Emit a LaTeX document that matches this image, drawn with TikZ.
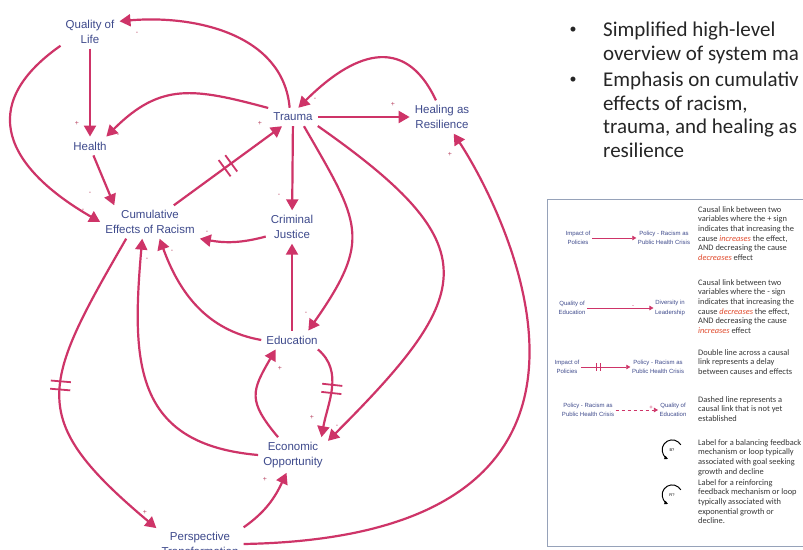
\documentclass[tikz,border=0pt]{standalone}
\usepackage{fontspec}
\setmainfont{Liberation Sans}
\newfontfamily\slidefont{Carlito}
\usepackage{tikz}
\usetikzlibrary{arrows.meta}
\usepackage{xcolor}

\definecolor{linkpink}{RGB}{206,52,104}
\definecolor{varblue}{RGB}{62,74,140}
\definecolor{signred}{RGB}{185,70,100}
\definecolor{boxline}{RGB}{150,162,185}
\definecolor{desctext}{RGB}{55,55,55}
\definecolor{hotword}{RGB}{225,75,45}
\newcommand{\hot}[1]{\textcolor{hotword}{\itshape #1}}

\begin{document}
\begin{tikzpicture}[x=1pt, y=1pt]
    % ================= styles =================
    \tikzset{
        % variables of the loop diagram
        vnode/.style={align=center, text=varblue, inner sep=5pt, font=\fontsize{11.5}{14.5}\selectfont},
        % polarity signs
        sgn/.style={text=signred, inner sep=0pt, font=\fontsize{7}{7}\selectfont},
        % causal links
        link/.style={line width=2.2pt, linkpink, -{Triangle[length=11pt, width=12pt]}},
        % holder of the two delay bars
        delaymark/.style={sloped, inner sep=0pt, minimum width=6pt, minimum height=18pt},
        dbar/.style={line width=1.8pt, linkpink},
        % slide text on the right
        slidetext/.style={align=left, anchor=north west, inner sep=0pt, text=black!85, font=\slidefont\fontsize{21}{23.5}\selectfont},
        bulletmark/.style={inner sep=0pt, text=black!85, font=\slidefont\fontsize{14}{14}\selectfont},
        % legend
        legvar/.style={align=center, text=varblue, inner sep=1.5pt, font=\fontsize{6}{9.5}\selectfont},
        leglink/.style={line width=0.7pt, linkpink, -{Triangle[length=4pt, width=4.5pt]}},
        legsgn/.style={text=linkpink, inner sep=0pt, font=\fontsize{6}{6}\selectfont},
        legdelay/.style={sloped, inner sep=0pt, minimum width=2.5pt, minimum height=7pt},
        legdesc/.style={align=left, anchor=north west, inner sep=0pt, text=desctext, font=\slidefont\fontsize{8.4}{9.7}\selectfont},
        loopicon/.style={circle, minimum size=20pt, inner sep=0pt, font=\fontsize{4}{4}\selectfont},
        looparc/.style={line width=1pt, -{Triangle[length=3.5pt, width=3.5pt]}}
    }

    \fill[white] (0,0) rectangle (803,549);
    \useasboundingbox (0,0) rectangle (803,549);

    % ================= variables =================
    \node[vnode] (qol) at (90,517) {Quality of\\Life};
    \node[vnode] (health) at (90,403) {Health};
    \node[vnode] (cumul) at (150,327) {Cumulative\\Effects of Racism};
    \node[vnode] (trauma) at (293,432) {Trauma};
    \node[vnode] (healing) at (442,432) {Healing as\\Resilience};
    \node[vnode] (justice) at (292,322) {Criminal\\Justice};
    \node[vnode] (educ) at (292,209) {Education};
    \node[vnode] (econ) at (293,94) {Economic\\Opportunity};
    \node[vnode] (persp) at (200,5) {Perspective\\Transformation};

    % ================= links =================
    \draw[link] (trauma.110) to[out=95, in=5] (qol.20);
    \draw[link] (qol) -- (health);
    \draw[link] (trauma.160) to[out=165, in=45, looseness=1.2] (health.30);
    \draw[link] (qol.205) to[out=215, in=150, looseness=1.5] (cumul.west);
    \draw[link] (health.-70) -- (cumul.155);
    \draw[link] (cumul.35) -- node[delaymark] (dl1) {} (trauma.-140);
    \draw[link] (trauma) -- (healing);
    \draw[link] (healing.110) to[out=115, in=45, looseness=1.4] (trauma.60);
    \draw[link] (trauma) -- (justice);
    \draw[link] (justice.200) to[out=195, in=-10] (cumul.south east);
    \draw[link] (trauma.-40) to[out=-60, in=55, looseness=1.4] (educ.30);
    \draw[link] (educ) -- (justice);
    \draw[link] (educ.west) to[out=170, in=-70] (cumul.-60);
    \draw[link] (econ.west) to[out=175, in=-95, looseness=1.3] (cumul.-115);
    \draw[link] (cumul.-145) to[out=-120, in=140, looseness=1.5] node[delaymark, pos=.45] (dl2) {} (persp.160);
    \draw[link] (persp.north east) to[out=35, in=-115] (econ.-110);
    \draw[link] (persp.east) .. controls +(440,8) and +(40,-60) .. (healing.-55);
    \draw[link] (educ.-20) to[out=-40, in=80] node[delaymark, pos=.5] (dl3) {} (econ.32);
    \draw[link] (econ.130) to[out=130, in=-120, looseness=1.4] (educ.-150);
    \draw[link] (trauma.-20) to[out=-35, in=45, looseness=1.7] (econ.22);

    % delay bars
    \foreach \d in {dl1, dl2, dl3} {
        \draw[dbar] (\d.north west) -- (\d.south west) (\d.north east) -- (\d.south east);
    }

    % ================= polarity signs =================
    \node[sgn] (s1) at (137,516) {-};
    \node[sgn] (s2) at (77,426) {+};
    \node[sgn] (s3) at (118,414) {-};
    \node[sgn] (s4) at (83,339) {-};
    \node[sgn] (s5) at (90,356) {-};
    \node[sgn] (s6) at (260,426) {+};
    \node[sgn] (s7) at (393,445) {+};
    \node[sgn] (s8) at (315,450) {-};
    \node[sgn] (s9) at (279,354) {-};
    \node[sgn] (s10) at (207,317) {-};
    \node[sgn] (s11) at (306,236) {-};
    \node[sgn] (s13) at (172,298) {-};
    \node[sgn] (s14) at (147,290) {-};
    \node[sgn] (s15) at (145,37) {+};
    \node[sgn] (s16) at (265,70) {+};
    \node[sgn] (s17) at (450,395) {+};
    \node[sgn] (s18) at (312,132) {+};
    \node[sgn] (s19) at (280,181) {+};
    \node[sgn] (s20) at (337,123) {-};

    % ================= slide text =================
    \node[bulletmark] (b1) at (573,519) {•};
    \node[slidetext] (item1) at (603,527) {Simplified high-level\\overview of system ma};
    \node[bulletmark] (b2) at (573,469) {•};
    \node[slidetext] (item2) at (603,477) {Emphasis on cumulativ\\effects of racism,\\trauma, and healing as\\resilience};

    % ================= legend =================
    \draw[boxline, line width=1pt] (547,3) rectangle (830,349);

    \node[legvar] (imp1) at (578,311) {Impact of\\Policies};
    \node[legvar] (pol1) at (664,311) {Policy - Racism as\\Public Health Crisis};
    \draw[leglink] (imp1.east) -- (pol1.west);

    \node[legvar] (qed2) at (572,241) {Quality of\\Education};
    \node[legvar] (div2) at (670,241) {Diversity in\\Leadership};
    \draw[leglink] (qed2.east) -- (div2.west);
    \node[legsgn] (ls2) at (633,242) {-};

    \node[legvar] (imp3) at (567,182) {Impact of\\Policies};
    \node[legvar] (pol3) at (658,182) {Policy - Racism as\\Public Health Crisis};
    \draw[leglink] (imp3.east) -- node[legdelay, pos=.35] (ld3) {} (pol3.west);
    \draw[linkpink, line width=.6pt] (ld3.north west) -- (ld3.south west) (ld3.north east) -- (ld3.south east);

    \node[legvar] (pol4) at (588,139) {Policy - Racism as\\Public Health Crisis};
    \node[legvar] (qed4) at (673,139) {Quality of\\Education};
    \draw[leglink, dashed] (pol4.east) -- (qed4.west);
    \node[legsgn] (ls4) at (651,141) {+};

    \node[loopicon] (lp5) at (672,99) {B?};
    \draw[looparc] (lp5.30) arc[start angle=30, end angle=245, radius=10pt];
    \node[loopicon] (lp6) at (672,54) {R?};
    \draw[looparc] (lp6.30) arc[start angle=30, end angle=245, radius=10pt];

    \node[legdesc] (d1) at (698,343) {Causal link between two\\variables where the + sign\\indicates that increasing the\\cause \hot{increases} the effect,\\AND decreasing the cause\\\hot{decreases} effect};
    \node[legdesc] (d2) at (698,270) {Causal link between two\\variables where the - sign\\indicates that increasing the\\cause \hot{decreases} the effect,\\AND decreasing the cause\\\hot{increases} effect};
    \node[legdesc] (d3) at (698,200) {Double line across a causal\\link represents a delay\\between causes and effects};
    \node[legdesc] (d4) at (698,153) {Dashed line represents a\\causal link that is not yet\\established};
    \node[legdesc] (d5) at (698,110) {Label for a balancing feedback\\mechanism or loop typically\\associated with goal seeking\\growth and decline};
    \node[legdesc] (d6) at (698,70) {Label for a reinforcing\\feedback mechanism or loop\\typically associated with\\exponential growth or\\decline.};
\end{tikzpicture}
\end{document}
